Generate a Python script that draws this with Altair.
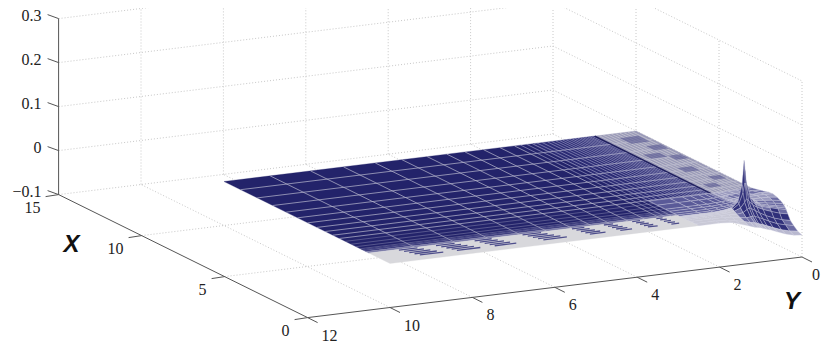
import altair as alt
import pandas as pd

alt.data_transformers.disable_max_rows()

# ---------- values ----------
Z_TICKS = [-0.1, 0, 0.1, 0.2, 0.3]
Z_TEXT = ["\u22120.1", "0", "0.1", "0.2", "0.3"]
X_TICKS = [0, 5, 10, 15]
Y_TICKS = [0, 2, 4, 6, 8, 10, 12]

# mesh lines of the flat part of the surface (z = 0)
COARSE_X = [9.0, 8.0, 7.07, 6.26, 5.57, 4.96, 4.4, 3.9, 3.45, 3.05]
FINE_X = [2.7, 2.35, 2.05, 1.8, 1.6, 1.45]
COARSE_Y = [8.88, 7.9, 7.1, 6.33, 5.68, 5.07, 4.59, 4.15, 3.7, 3.3, 2.95]
FINE_Y = [2.8, 2.65, 2.52, 2.4, 2.28, 2.15, 2.05, 1.95, 1.86, 1.78, 1.7, 1.62, 1.55, 1.48,
          1.41, 1.35, 1.29, 1.23, 1.17, 1.12, 1.06]
REAR_Y = [0.9, 0.8, 0.7, 0.6, 0.5, 0.4, 0.3, 0.2, 0.1]

# flat shaded regions: X from, X to, Y from, Y to, colour
PANELS = [
    (1.7, 10, 2.5, 10, "#23236a"),
    (3, 10, 1, 2.5, "#2b2b74"),
    (1.45, 1.7, 2.5, 10, "#2a2a72"),
    (1.28, 1.45, 2.5, 10, "#7a7aa8"),
    (0, 1.28, 2.5, 10, "#d8d8dc"),
    (3, 10, 0, 1, "#9a9ab8"),
]
# dark stripes of the fine mesh along the front edge: Y from, Y to
FRONT_PATCHES = [(8.85, 9.45), (7.95, 8.55), (7.05, 7.6), (5.85, 6.45), (4.8, 5.2), (4.1, 4.4), (3.45, 3.7), (2.9, 3.1)]
STRIPE_X = [1.2, 1.02, 0.84, 0.66, 0.48]
# darker patches of the rear strip: X from, X to, Y from, Y to
REAR_PATCHES = [
    (8.8, 9.5, 0.15, 0.6), (7.9, 8.4, 0.05, 0.4), (6.7, 7.2, 0.05, 0.35),
    (5.4, 5.9, 0.3, 0.65), (7.1, 7.6, 0.4, 0.8), (4.3, 4.7, 0.1, 0.4), (3.6, 4.0, 0.5, 0.8),
]
RIDGE_X = [10, 1.5]
RIDGE_Y = 1

# surface height around the peak
PEAK_X = [0, 0.25, 0.5, 0.7, 0.85, 0.95, 1, 1.05, 1.15, 1.3, 1.5, 1.75, 2, 2.5, 3]
PEAK_Y = [0, 0.2, 0.4, 0.6, 0.75, 0.85, 0.95, 1, 1.05, 1.15, 1.3, 1.5, 1.7, 2, 2.5]
PEAK_Z = [
    [-.050, -.048, -.043, -.036, -.030, -.027, -.024, -.022, -.021, -.019, -.014, -.008, -.002, 0, 0],
    [-.046, -.043, -.038, -.031, -.025, -.021, -.018, -.016, -.015, -.013, -.009, -.005, -.001, 0, 0],
    [-.038, -.034, -.029, -.021, -.014, -.010, -.006, -.005, -.006, -.007, -.005, -.002, 0, 0, 0],
    [-.030, -.026, -.020, -.012, -.004, .002, .008, .010, .007, .001, -.001, 0, 0, 0, 0],
    [-.018, -.014, -.008, -.001, .006, .012, .022, .028, .020, .009, .003, .001, 0, 0, 0],
    [-.010, -.006, -.001, .004, .011, .020, .042, .062, .040, .016, .006, .002, 0, 0, 0],
    [-.007, -.003, .001, .006, .014, .026, .062, .112, .058, .020, .007, .002, .001, 0, 0],
    [-.004, -.001, .003, .008, .014, .021, .040, .060, .038, .016, .006, .002, 0, 0, 0],
    [0, .003, .006, .009, .012, .015, .022, .027, .020, .010, .004, .001, 0, 0, 0],
    [.004, .007, .009, .011, .012, .012, .012, .012, .010, .006, .003, .001, 0, 0, 0],
    [.008, .010, .011, .011, .011, .009, .007, .006, .005, .003, .002, .001, 0, 0, 0],
    [.011, .012, .012, .011, .009, .007, .005, .004, .003, .002, .001, 0, 0, 0, 0],
    [.010, .011, .010, .009, .007, .005, .003, .002, .002, .001, .001, 0, 0, 0, 0],
    [.005, .006, .005, .004, .003, .002, .001, .001, .001, 0, 0, 0, 0, 0, 0],
    [.001, .001, .001, .001, 0, 0, 0, 0, 0, 0, 0, 0, 0, 0, 0],
]

# ---------- tables ----------
def segs(rows):
    out = []
    for i, pts in enumerate(rows):
        for k, (x, y, z) in enumerate(pts):
            out.append({"id": i, "o": k, "X": x, "Y": y, "Z": z})
    return pd.DataFrame(out)

def rect_rows(rects):
    out = []
    for i, (a, b, c, d, col) in enumerate(rects):
        for k, (x, y) in enumerate([(a, c), (b, c), (b, d), (a, d), (a, c)]):
            out.append({"id": i, "o": k, "X": x, "Y": y, "Z": 0, "col": col})
    return pd.DataFrame(out)

grid = []
for x in [5, 10]:
    grid.append([(x, 12, -.1), (x, 0, -.1)])
    grid.append([(x, 0, -.1), (x, 0, .3)])
for y in [2, 4, 6, 8, 10]:
    grid.append([(0, y, -.1), (15, y, -.1)])
    grid.append([(15, y, -.1), (15, y, .3)])
for z in [0, .1, .2, .3]:
    grid.append([(15, 12, z), (15, 0, z), (0, 0, z)])
grid.append([(15, 0, -.1), (15, 0, .3)])
grid.append([(0, 0, -.1), (0, 0, .3)])
grid.append([(15, 12, -.1), (15, 0, -.1), (0, 0, -.1)])
grid_df = segs(grid)

axes_df = segs([[(15, 12, .3), (15, 12, -.1), (0, 12, -.1), (0, 0, -.1)]])

def x_line(x):
    return [(x, 10, 0), (x, 2.5 if x < 3 else 0, 0)]

def y_line(y):
    return [(1.28 if y >= 2.5 else 3, y, 0), (10, y, 0)]

coarse_df = segs([x_line(x) for x in COARSE_X] + [y_line(y) for y in COARSE_Y])
fine_x_df = segs([x_line(x) for x in FINE_X])
fine_y_df = segs([y_line(y) for y in FINE_Y])
rear_df = segs([y_line(y) for y in REAR_Y])

panels_df = rect_rows(PANELS)
rear_patch_df = rect_rows([p + ("#55558f",) for p in REAR_PATCHES])
stripes = []
for lo, hi in FRONT_PATCHES:
    w = hi - lo
    for k, x in enumerate(STRIPE_X):
        stripes.append([(x, hi - 0.09 * k * w - 0.25 * w, 0), (x, lo - 0.14 * k * w, 0)])
stripes_df = segs(stripes)
ridge_df = segs([[(x, RIDGE_Y, 0) for x in RIDGE_X]])

quads = []
qid = 0
for i in range(len(PEAK_X) - 2, -1, -1):
    for j in range(len(PEAK_Y) - 1):
        corners = [(i, j), (i + 1, j), (i + 1, j + 1), (i, j + 1), (i, j)]
        zs = [PEAK_Z[a][b] for a, b in corners]
        dz = max(zs) - min(zs)
        xlo, ylo = PEAK_X[i], PEAK_Y[j]
        if dz > 0.012:
            col = "#30307a"
        elif xlo >= 1.15 and ylo >= 1:
            col = "#5a5a98"
        elif xlo < 1.15 and ylo >= 1.3:
            col = "#c9c9d6"
        elif xlo < 0.25 and ylo < 1.3:
            col = "#b8b8cf"
        elif dz > 0.004:
            col = "#6c6ca3"
        else:
            col = "#9a9abe"
        for k, (a, b) in enumerate(corners):
            quads.append({"id": qid, "o": k, "X": PEAK_X[a], "Y": PEAK_Y[b], "Z": PEAK_Z[a][b], "col": col})
        qid += 1
quads_df = pd.DataFrame(quads)

z_ticks = pd.DataFrame({"X": 15, "Y": 12, "Z": Z_TICKS, "t": Z_TEXT})
x_ticks = pd.DataFrame({"X": X_TICKS, "Y": 12, "Z": -.1, "t": [str(v) for v in X_TICKS]})
y_ticks = pd.DataFrame({"X": 0, "Y": Y_TICKS, "Z": -.1, "t": [str(v) for v in Y_TICKS]})

# ---------- projection through the chart's scales ----------
W, H = 814, 337
U = alt.X("u:Q", scale=alt.Scale(domain=[0, W], nice=False, zero=False), axis=None)
V = alt.Y("v:Q", scale=alt.Scale(domain=[H, 0], nice=False, zero=False), axis=None)

def base(df):
    return alt.Chart(df).transform_calculate(
        u="802 - 16.6*datum.X - 41.2*datum.Y - 8",
        v="257 - 8.2*datum.X + 5.05*datum.Y - 440*(datum.Z + 0.1) - 8",
    )

def lines(df, **kw):
    return base(df).mark_line(interpolate="linear", **kw).encode(
        x=U, y=V, detail="id:N", order="o:Q")

def fills(df, **kw):
    return base(df).mark_line(interpolate="linear", **kw).encode(
        x=U, y=V, detail="id:N", order="o:Q",
        fill=alt.Fill("col:N", scale=None), stroke=alt.Stroke("col:N", scale=None))

def tick_marks(df, dU, dV):
    # short stubs running outward from the axis
    return base(df).transform_calculate(u2=f"datum.u + {dU}", v2=f"datum.v + {dV}").mark_rule(
        color="#555555", strokeWidth=1).encode(
        x=U, y=V, x2="u2:Q", y2="v2:Q")

def labels(df, dx, dy, align):
    return base(df).mark_text(font="Liberation Serif", fontSize=16, color="#222222",
                              align=align, baseline="middle", dx=dx, dy=dy).encode(x=U, y=V, text="t:N")

def name(txt, X, Y, Z, dx, dy):
    return base(pd.DataFrame({"X": [X], "Y": [Y], "Z": [Z], "t": [txt]})).mark_text(
        font="Liberation Sans", fontSize=24, fontWeight="bold", fontStyle="italic", color="#111111",
        align="center", baseline="middle", dx=dx, dy=dy).encode(x=U, y=V, text="t:N")

chart = alt.layer(
    lines(grid_df, color="#c8c8c8", strokeWidth=1, strokeDash=[1, 2]),
    fills(panels_df, strokeWidth=0.3),
    lines(rear_df, color="#c8c8d2", strokeWidth=0.8),
    lines(coarse_df, color="#bcbcd0", strokeWidth=0.7),
    lines(fine_x_df, color="#8a8ab0", strokeWidth=0.5),
    lines(fine_y_df, color="#a8a8cc", strokeWidth=0.6),
    lines(stripes_df, color="#4f4f8c", strokeWidth=1.3),
    fills(rear_patch_df, strokeWidth=0, opacity=0.6),
    lines(ridge_df, color="#1e1e5c", strokeWidth=1.3),
    base(quads_df).mark_line(interpolate="linear", stroke="#cfcfde", strokeWidth=0.35).encode(
        x=U, y=V, detail="id:N", order="o:Q", fill=alt.Fill("col:N", scale=None)),
    lines(axes_df, color="#555555", strokeWidth=1),
    tick_marks(z_ticks, -11, -4),
    tick_marks(x_ticks, -13, 2),
    tick_marks(y_ticks, 10, 5),
    labels(z_ticks, -17, -3, "right"),
    labels(x_ticks, -18, 13, "right"),
    labels(y_ticks[y_ticks.Y > 0], 14, 18, "left"),
    labels(y_ticks[y_ticks.Y == 0], 10, 18, "left"),
    name("X", 15, 12, -.1, 13, 50),
    name("Y", 0, 0, -.1, -10, 45),
).properties(
    width=W, height=H, padding=0, autosize=alt.AutoSizeParams(type="none"),
    background="white",
).configure_view(stroke=None)

chart.save("out.html", embed_options={"renderer": "svg", "actions": False})
